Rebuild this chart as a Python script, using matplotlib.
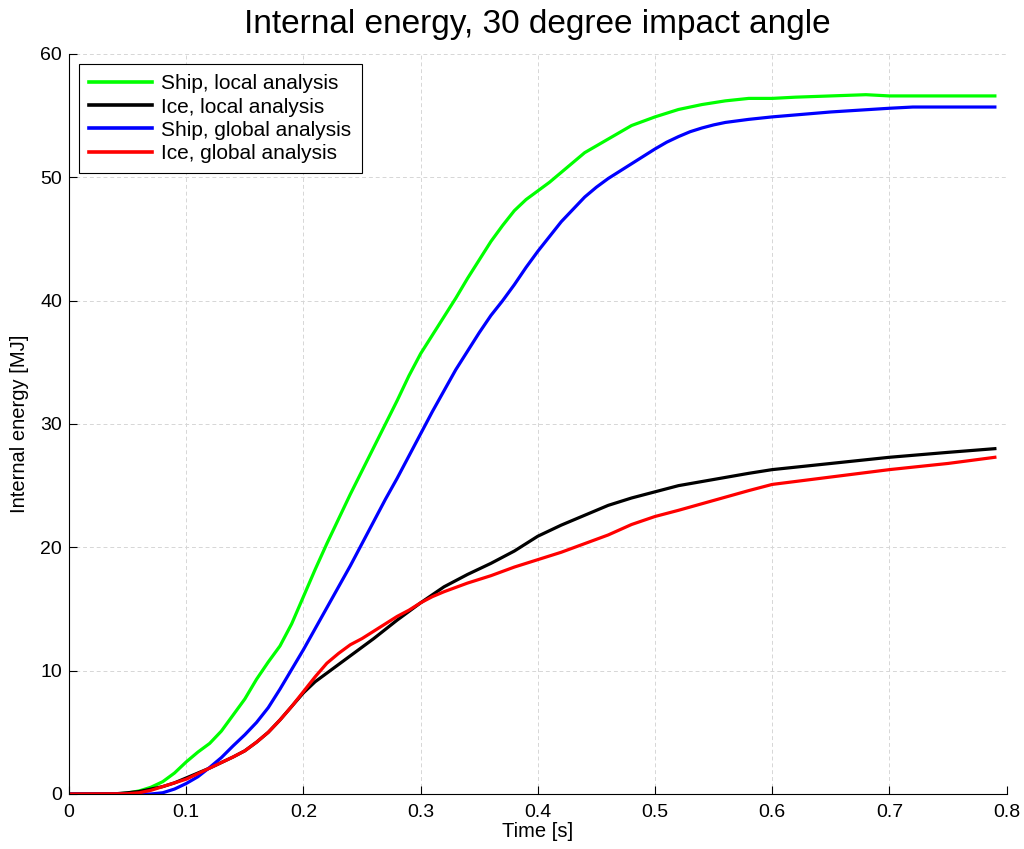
import matplotlib
matplotlib.use("Agg")
import matplotlib.pyplot as plt

plt.rcParams['font.family'] = ['Liberation Sans', 'DejaVu Sans']

# Time [s] sample points and internal energy [MJ] for each curve
t_ship_local = [0.0, 0.04, 0.05, 0.06, 0.07, 0.08, 0.09, 0.1, 0.11, 0.12, 0.13, 0.14, 0.15,
                0.16, 0.17, 0.18, 0.19, 0.2, 0.21, 0.22, 0.23, 0.24, 0.25, 0.26, 0.27, 0.28,
                0.29, 0.3, 0.31, 0.32, 0.33, 0.34, 0.35, 0.36, 0.37, 0.38, 0.39, 0.4, 0.41,
                0.42, 0.44, 0.46, 0.48, 0.5, 0.52, 0.54, 0.56, 0.58, 0.6, 0.62, 0.65, 0.68,
                0.7, 0.75, 0.79]
e_ship_local = [0.0, 0.0, 0.08, 0.25, 0.55, 1.0, 1.7, 2.6, 3.4, 4.1, 5.1, 6.4, 7.7,
                9.3, 10.7, 12.0, 13.8, 16.0, 18.2, 20.3, 22.3, 24.3, 26.2, 28.1, 30.0, 31.9,
                33.9, 35.7, 37.2, 38.7, 40.2, 41.8, 43.3, 44.8, 46.1, 47.3, 48.2, 48.9, 49.6,
                50.4, 52.0, 53.1, 54.2, 54.9, 55.5, 55.9, 56.2, 56.4, 56.4, 56.5, 56.6, 56.7,
                56.6, 56.6, 56.6]

t_ice_local = [0.0, 0.04, 0.05, 0.06, 0.07, 0.08, 0.09, 0.1, 0.12, 0.14, 0.15, 0.16, 0.17,
               0.18, 0.19, 0.2, 0.21, 0.22, 0.24, 0.26, 0.28, 0.3, 0.32, 0.34, 0.36, 0.38,
               0.4, 0.42, 0.44, 0.46, 0.48, 0.5, 0.52, 0.55, 0.58, 0.6, 0.65, 0.7, 0.75, 0.79]
e_ice_local = [0.0, 0.02, 0.1, 0.2, 0.4, 0.6, 0.9, 1.3, 2.1, 3.0, 3.5, 4.2, 5.0,
               6.0, 7.1, 8.2, 9.1, 9.8, 11.2, 12.6, 14.1, 15.5, 16.8, 17.8, 18.7, 19.7,
               20.9, 21.8, 22.6, 23.4, 24.0, 24.5, 25.0, 25.5, 26.0, 26.3, 26.8, 27.3, 27.7, 28.0]

t_ship_global = [0.0, 0.07, 0.08, 0.09, 0.1, 0.11, 0.12, 0.13, 0.14, 0.15, 0.16, 0.17, 0.18,
                 0.19, 0.2, 0.21, 0.22, 0.23, 0.24, 0.25, 0.26, 0.27, 0.28, 0.29, 0.3, 0.31,
                 0.32, 0.33, 0.34, 0.35, 0.36, 0.37, 0.38, 0.39, 0.4, 0.41, 0.42, 0.43, 0.44,
                 0.45, 0.46, 0.47, 0.48, 0.49, 0.5, 0.51, 0.52, 0.53, 0.54, 0.55, 0.56, 0.58,
                 0.6, 0.65, 0.7, 0.72, 0.75, 0.79]
e_ship_global = [0.0, 0.0, 0.1, 0.4, 0.85, 1.4, 2.15, 2.95, 3.9, 4.8, 5.8, 7.0, 8.5,
                 10.1, 11.7, 13.4, 15.1, 16.8, 18.5, 20.3, 22.1, 23.9, 25.6, 27.4, 29.2, 31.0,
                 32.7, 34.4, 35.9, 37.4, 38.8, 40.0, 41.3, 42.7, 44.0, 45.2, 46.4, 47.4, 48.4,
                 49.2, 49.9, 50.5, 51.1, 51.7, 52.3, 52.85, 53.3, 53.7, 54.0, 54.25, 54.45, 54.7,
                 54.9, 55.3, 55.6, 55.7, 55.7, 55.7]

t_ice_global = [0.0, 0.05, 0.06, 0.07, 0.08, 0.09, 0.1, 0.12, 0.14, 0.15, 0.16, 0.17, 0.18,
                0.19, 0.2, 0.21, 0.22, 0.23, 0.24, 0.25, 0.26, 0.27, 0.28, 0.29, 0.3, 0.31,
                0.32, 0.34, 0.36, 0.38, 0.4, 0.42, 0.44, 0.46, 0.48, 0.5, 0.52, 0.55, 0.58,
                0.6, 0.65, 0.7, 0.75, 0.79]
e_ice_global = [0.0, 0.02, 0.1, 0.3, 0.6, 0.9, 1.2, 2.1, 3.0, 3.5, 4.2, 5.0, 6.0,
                7.1, 8.3, 9.5, 10.6, 11.4, 12.1, 12.6, 13.2, 13.8, 14.4, 14.9, 15.5, 16.0,
                16.4, 17.1, 17.7, 18.4, 19.0, 19.6, 20.3, 21.0, 21.85, 22.5, 23.0, 23.8, 24.6,
                25.1, 25.7, 26.3, 26.8, 27.3]

labels = ["Ship, local analysis", "Ice, local analysis",
          "Ship, global analysis", "Ice, global analysis"]
colors = ["#00ff00", "#000000", "#0000ff", "#ff0000"]

x_ticks = [0, 0.1, 0.2, 0.3, 0.4, 0.5, 0.6, 0.7, 0.8]
x_ticklabels = ["0", "0.1", "0.2", "0.3", "0.4", "0.5", "0.6", "0.7", "0.8"]
y_ticks = [0, 10, 20, 30, 40, 50, 60]

fig = plt.figure(figsize=(10.24, 8.49), dpi=100)
ax = fig.add_axes([0.0674, 0.0648, 0.9156, 0.8716])

series = [(t_ship_local, e_ship_local), (t_ice_local, e_ice_local),
          (t_ship_global, e_ship_global), (t_ice_global, e_ice_global)]
for (t, e), lab, c in zip(series, labels, colors):
    ax.plot(t, e, color=c, lw=2.3, label=lab, solid_joinstyle='round')

ax.set_xlim(0, 0.8)
ax.set_ylim(0, 60)
ax.set_xticks(x_ticks)
ax.set_xticklabels(x_ticklabels)
ax.set_yticks(y_ticks)
ax.tick_params(direction='in', length=6, width=0.8, labelsize=14)
ax.tick_params(axis='x', pad=7)
ax.tick_params(axis='y', pad=5)
ax.grid(True, linestyle=(0, (4, 3)), color='#d6d6d6', lw=0.7)
ax.set_axisbelow(True)
for side in ('top', 'right'):
    ax.spines[side].set_visible(False)
for side in ('left', 'bottom'):
    ax.spines[side].set_linewidth(0.8)

ax.set_title("Internal energy, 30 degree impact angle", fontsize=24, pad=15)
ax.set_xlabel("Time [s]", fontsize=14.5, labelpad=1)
ax.set_ylabel("Internal energy [MJ]", fontsize=14.5, labelpad=8)

leg = ax.legend(loc='upper left', fontsize=15, frameon=True, fancybox=False,
                edgecolor='black', framealpha=1, handlelength=3.0, handletextpad=0.45,
                borderpad=0.5, labelspacing=0.2, borderaxespad=0.48)
leg.get_frame().set_linewidth(0.8)
for h in leg.get_lines():
    h.set_linewidth(2.6)

fig.savefig("out.png", dpi=100)
